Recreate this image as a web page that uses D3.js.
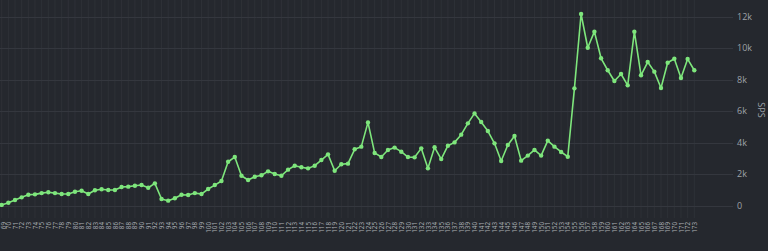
<!DOCTYPE html>
<html><head><meta charset="utf-8">
<script src="https://cdn.jsdelivr.net/npm/d3@7"></script>
<style>
html,body{margin:0;padding:0;background:#25282e;}
svg{display:block;font-family:"Open Sans","DejaVu Sans",sans-serif;}
</style></head>
<body>
<svg id="c" width="768" height="251"></svg>
<script>
const categories = ["69","70","71","72","73","74","75","76","77","78","79","80","81","82","83","84","85","86","87","88","89","90","91","92","93","94","95","96","97","98","99","100","101","102","103","104","105","106","107","108","109","110","111","112","113","114","115","116","117","118","119","120","121","122","123","124","125","126","127","128","129","130","131","132","133","134","135","136","137","138","139","140","141","142","143","144","145","146","147","148","149","150","151","152","153","154","155","156","157","158","159","160","161","162","163","164","165","166","167","168","169","170","171","172","173"];
const spsValues = [50,190,360,530,700,720,800,850,800,740,740,890,950,740,980,1040,1000,1000,1190,1210,1270,1310,1140,1420,425,320,470,700,680,800,740,1060,1310,1570,2790,3090,1900,1630,1840,1930,2180,2010,1900,2290,2540,2440,2370,2540,2900,3260,2220,2630,2670,3580,3750,5290,3350,3090,3540,3690,3430,3090,3070,3640,2370,3710,2960,3810,4020,4510,5230,5860,5310,4740,3960,2840,3850,4430,2860,3180,3540,3180,4130,3750,3410,3110,7450,12170,10030,11050,9360,8600,7920,8360,7640,11050,8280,9120,8510,7470,9080,9330,8110,9310,8600];
const yTicks = [0,2000,4000,6000,8000,10000,12000];
const yTickLabels = ["0","2k","4k","6k","8k","10k","12k"];
const yAxisName = "SPS";

const svg = d3.select("#c");
const x = d3.scalePoint().domain(categories).range([1.7, 694.3]);
const y = d3.scaleLinear().domain([0, 12000]).range([205.7, 16.7]);

// vertical grid
svg.append("g").selectAll("line").data(categories).join("line")
  .attr("x1", d => x(d)).attr("x2", d => x(d))
  .attr("y1", 0).attr("y2", 218)
  .attr("stroke", "#2e3137").attr("stroke-width", 1);

// horizontal grid
svg.append("g").selectAll("line").data(yTicks).join("line")
  .attr("x1", 0).attr("x2", 733)
  .attr("y1", d => Math.round(y(d)) + 0.5).attr("y2", d => Math.round(y(d)) + 0.5)
  .attr("stroke", "#34373e").attr("stroke-width", 1);

// y tick labels
svg.append("g").selectAll("text").data(yTicks).join("text")
  .attr("x", 737).attr("y", d => y(d)).attr("dy", "0.35em")
  .attr("fill", "#9ea2a8").attr("font-size", 9)
  .text((d, i) => yTickLabels[i]);

// y axis name
svg.append("text")
  .attr("transform", "translate(758,110) rotate(90)")
  .attr("text-anchor", "middle")
  .attr("fill", "#9ea2a8").attr("font-size", 9)
  .text(yAxisName);

// x labels
svg.append("g").selectAll("text").data(categories).join("text")
  .attr("transform", d => `translate(${Math.max(x(d) + 2.6, 5.5)},222) rotate(-90)`)
  .attr("text-anchor", "end")
  .attr("fill", "#aeb2b8").attr("font-size", 6.3)
  .text(d => d);

// line
const line = d3.line().x((d, i) => x(categories[i])).y(d => y(d));
svg.append("path").datum(spsValues)
  .attr("d", line).attr("fill", "none")
  .attr("stroke", "#7ee67c").attr("stroke-width", 1.6)
  .attr("stroke-linejoin", "round");

svg.append("g").selectAll("circle").data(spsValues).join("circle")
  .attr("cx", (d, i) => x(categories[i])).attr("cy", d => y(d))
  .attr("r", 2.2).attr("fill", "#7ee67c");
</script>
</body></html>
